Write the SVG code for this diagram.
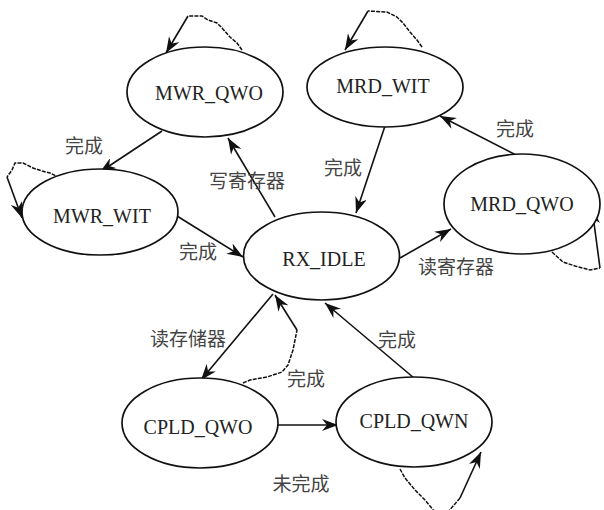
<svg xmlns="http://www.w3.org/2000/svg" width="604" height="510" viewBox="0 0 604 510">
<style>
.node ellipse{fill:#fff;stroke:#111;stroke-width:1.7}
.node text{font-family:"Liberation Serif","Times New Roman",serif;font-size:20px;fill:#222;text-anchor:middle}
.edge{fill:none;stroke:#111;stroke-width:1.6}
.dash{fill:none;stroke:#111;stroke-width:1.5;stroke-dasharray:4 1.2}
.lbl{font-family:"Noto Sans CJK SC","Noto Sans",sans-serif;font-size:19px;fill:#444;text-anchor:middle;dominant-baseline:central}
</style>
<defs>
<marker id="arr" viewBox="0 0 16 12" refX="16" refY="6" markerWidth="16" markerHeight="12" markerUnits="userSpaceOnUse" orient="auto">
<path d="M0,0 L16,6 L0,12 L5,6 z" fill="#111"/>
</marker>
</defs>
<g id="connectors">
<path class="edge" d="M162,131 L100,172" marker-end="url(#arr)"/>
<path class="edge" d="M177,216 L243,257" marker-end="url(#arr)"/>
<path class="edge" d="M275,217 L228,138" marker-end="url(#arr)"/>
<path class="edge" d="M385,126 L356,213" marker-end="url(#arr)"/>
<path class="edge" d="M400,258 L451,229" marker-end="url(#arr)"/>
<path class="edge" d="M516,155 L440,116" marker-end="url(#arr)"/>
<path class="edge" d="M273,294 L201,380" marker-end="url(#arr)"/>
<path class="edge" d="M414,378 L325,303" marker-end="url(#arr)"/>
<path class="edge" d="M278,425 L338,425" marker-end="url(#arr)"/>
<g id="loop-mwr-qwo">
<polyline class="dash" points="242,50 237,43 230,37 222,28 217,23 208,20 202,16 188,16"/>
<path class="edge" d="M188,16 L166,53" marker-end="url(#arr)"/>
</g>
<g id="loop-mwr-wit">
<polyline class="dash" points="60,178 50,173 42,171 33,168 23,163 15,163 12,170 7,177"/>
<path class="edge" d="M7,177 L22,218" marker-end="url(#arr)"/>
</g>
<g id="loop-mrd-wit">
<polyline class="dash" points="422,47 417,40 410,32 403,23 397,17 387,12 368,11"/>
<path class="edge" d="M368,11 L345,50" marker-end="url(#arr)"/>
</g>
<g id="loop-mrd-qwo">
<polyline class="dash" points="552,252 563,262 575,266 590,270 600,268"/>
<path class="edge" d="M600,268 L592,208" marker-end="url(#arr)"/>
</g>
<g id="cpld-qwo-done">
<polyline class="dash" points="243,383 250,380 267,377 282,372 288,365 293,350 295,340 297,330"/>
<path class="edge" d="M297,330 L275,295" marker-end="url(#arr)"/>
</g>
<g id="loop-cpld-qwn">
<polyline class="dash" points="400,469 405,478 415,490 425,500 435,512 448,512 460,498"/>
<path class="edge" d="M460,498 L481,452" marker-end="url(#arr)"/>
</g>
</g>
<g id="MWR_QWO" class="node"><ellipse cx="205" cy="92" rx="78" ry="45"/><text x="209" y="100">MWR_QWO</text></g>
<g id="MWR_WIT" class="node"><ellipse cx="100" cy="212" rx="78" ry="43"/><text x="102" y="223">MWR_WIT</text></g>
<g id="RX_IDLE" class="node"><ellipse cx="321.5" cy="256" rx="78" ry="44"/><text x="324" y="266">RX_IDLE</text></g>
<g id="MRD_WIT" class="node"><ellipse cx="385" cy="87" rx="78" ry="40"/><text x="383" y="93">MRD_WIT</text></g>
<g id="MRD_QWO" class="node"><ellipse cx="522" cy="204" rx="78" ry="50"/><text x="522" y="211">MRD_QWO</text></g>
<g id="CPLD_QWO" class="node"><ellipse cx="200" cy="423" rx="78" ry="45"/><text x="198" y="434">CPLD_QWO</text></g>
<g id="CPLD_QWN" class="node"><ellipse cx="414" cy="422" rx="78" ry="45"/><text x="414" y="428">CPLD_QWN</text></g>
<g id="labels">
<text class="lbl" x="84" y="144">完成</text>
<text class="lbl" x="247" y="179">写寄存器</text>
<text class="lbl" x="198" y="250">完成</text>
<text class="lbl" x="343" y="166">完成</text>
<text class="lbl" x="515" y="127">完成</text>
<text class="lbl" x="456" y="265">读寄存器</text>
<text class="lbl" x="188" y="337">读存储器</text>
<text class="lbl" x="306" y="377">完成</text>
<text class="lbl" x="397" y="338">完成</text>
<text class="lbl" x="301" y="482">未完成</text>
</g>
</svg>
